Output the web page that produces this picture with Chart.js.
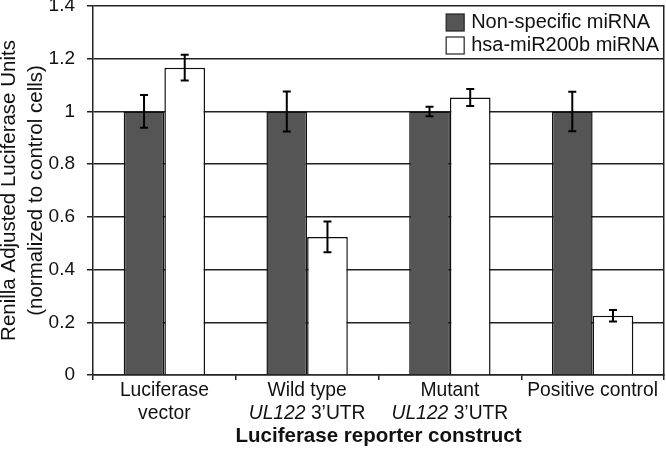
<!DOCTYPE html>
<html>
<head>
<meta charset="utf-8">
<script src="https://cdn.jsdelivr.net/npm/chart.js@4.4.0/dist/chart.umd.min.js"></script>
<style>
  html, body { margin: 0; padding: 0; background: #fff; }
</style>
</head>
<body>
<canvas id="luciferaseChart" width="666" height="450"></canvas>
<script>
// Categorias del eje x (un renglon por elemento)
const categories = [
  ['Luciferase', 'vector'],
  ['Wild type', 'UL122 3\u2019UTR'],
  ['Mutant', 'UL122 3\u2019UTR'],
  ['Positive control'],
];
const italicWords = ['UL122'];
const seriesNames = ['Non-specific miRNA', 'hsa-miR200b miRNA'];
const nonSpecific = [1.0, 1.0, 1.0, 1.0];
const nonSpecificErr = [0.062, 0.076, 0.018, 0.075];
const mir200b = [1.166, 0.524, 1.053, 0.225];
const mir200bErr = [0.049, 0.058, 0.032, 0.022];
const yTicks = [0, 0.2, 0.4, 0.6, 0.8, 1, 1.2, 1.4];

const FONT = '"Liberation Sans", Arial, sans-serif';
Chart.defaults.font.family = FONT;
Chart.defaults.color = '#111';

/* barras de error */
const errorBars = {
  id: 'errorBars',
  afterDatasetsDraw(chart) {
    const ctx = chart.ctx;
    const y = chart.scales.y;
    ctx.save();
    ctx.strokeStyle = '#000';
    ctx.lineWidth = 2;
    chart.data.datasets.forEach((ds, i) => {
      chart.getDatasetMeta(i).data.forEach((bar, j) => {
        const top = y.getPixelForValue(ds.data[j] + ds.errors[j]);
        const bot = y.getPixelForValue(ds.data[j] - ds.errors[j]);
        ctx.beginPath();
        ctx.moveTo(bar.x, top); ctx.lineTo(bar.x, bot);
        ctx.moveTo(bar.x - 4, top); ctx.lineTo(bar.x + 4, top);
        ctx.moveTo(bar.x - 4, bot); ctx.lineTo(bar.x + 4, bot);
        ctx.stroke();
      });
    });
    ctx.restore();
  }
};

/* etiquetas del eje x con el nombre del gen en cursiva */
const xLabels = {
  id: 'xLabels',
  afterDraw(chart) {
    const ctx = chart.ctx;
    const x = chart.scales.x;
    ctx.save();
    ctx.fillStyle = '#111';
    ctx.textBaseline = 'middle';
    ctx.textAlign = 'left';
    categories.forEach((lines, i) => {
      const cx = x.getPixelForTick(i);
      lines.forEach((line, k) => {
        const cy = x.top + 15.5 + k * 23;
        const parts = line.split(' ').map((w, n, all) => ({
          text: w + (n < all.length - 1 ? ' ' : ''),
          italic: italicWords.includes(w),
        }));
        let total = 0;
        parts.forEach(p => {
          ctx.font = (p.italic ? 'italic ' : '') + '19.3px ' + FONT;
          p.w = ctx.measureText(p.text).width;
          total += p.w;
        });
        let px = cx - total / 2;
        parts.forEach(p => {
          ctx.font = (p.italic ? 'italic ' : '') + '19.3px ' + FONT;
          ctx.fillText(p.text, px, cy);
          px += p.w;
        });
      });
    });
    ctx.restore();
  }
};

/* leyenda dentro del area del grafico, arriba a la derecha */
const boxLegend = {
  id: 'boxLegend',
  afterDraw(chart) {
    const ctx = chart.ctx;
    const area = chart.chartArea;
    ctx.save();
    ctx.font = '20px ' + FONT;
    const widths = chart.data.datasets.map(d => ctx.measureText(d.label).width);
    const textX = area.right - 5 - Math.max(...widths);
    chart.data.datasets.forEach((ds, i) => {
      const cy = area.top + 16.5 + i * 23;
      ctx.fillStyle = ds.backgroundColor;
      ctx.fillRect(textX - 25, cy - 8.5, 18, 17);
      ctx.strokeStyle = '#222';
      ctx.lineWidth = 1.2;
      ctx.strokeRect(textX - 25, cy - 8.5, 18, 17);
      ctx.fillStyle = '#111';
      ctx.textBaseline = 'middle';
      ctx.fillText(ds.label, textX, cy);
    });
    ctx.restore();
  }
};

const chartCtx = document.getElementById('luciferaseChart').getContext('2d');

new Chart(chartCtx, {
  type: 'bar',
  plugins: [errorBars, xLabels, boxLegend],
  data: {
    labels: categories,
    datasets: [
      {
        label: seriesNames[0],
        data: nonSpecific,
        errors: nonSpecificErr,
        backgroundColor: '#555555',
        borderColor: '#111',
        borderWidth: 1.5,
        categoryPercentage: 0.57,
        barPercentage: 1.0,
      },
      {
        label: seriesNames[1],
        data: mir200b,
        errors: mir200bErr,
        backgroundColor: '#ffffff',
        borderColor: '#111',
        borderWidth: 1.5,
        categoryPercentage: 0.57,
        barPercentage: 1.0,
      },
    ],
  },
  options: {
    responsive: false,
    animation: false,
    layout: { padding: { top: 6, right: 2, bottom: 0, left: 0 } },
    plugins: {
      legend: { display: false },
      tooltip: { enabled: false },
    },
    scales: {
      x: {
        grid: { offset: true, drawOnChartArea: false, drawTicks: true, tickLength: 5, color: '#222', lineWidth: 1.5 },
        border: { color: '#222', width: 1.5 },
        ticks: { display: false },
        title: {
          display: true,
          text: 'Luciferase reporter construct',
          font: { size: 20.5, weight: 'bold' },
          color: '#111',
          padding: { top: 0, bottom: 1 },
        },
        afterFit: (scale) => {
          scale.height = 75;
          scale.paddingLeft = 0;
          scale.paddingRight = 0;
        },
      },
      y: {
        min: 0,
        max: 1.4,
        afterBuildTicks: (scale) => {
          scale.ticks = yTicks.map(v => ({ value: v }));
        },
        ticks: {
          font: { size: 19 },
          color: '#111',
          padding: 12,
          callback: (v) => String(parseFloat(Number(v).toFixed(1))),
        },
        grid: { color: '#222', lineWidth: 1.5, tickLength: 6, drawTicks: true },
        border: { color: '#222', width: 1.5 },
        title: {
          display: true,
          text: ['Renilla Adjusted Luciferase Units', '(normalized to control cells)'],
          font: { size: 20.5, lineHeight: 1.3 },
          color: '#111',
          padding: { top: -4, bottom: 0 },
        },
        afterFit: (scale) => {
          scale.width = 93;
          scale.paddingTop = 0;
          scale.paddingBottom = 0;
        },
      },
      y2: {
        position: 'right',
        min: 0,
        max: 1.4,
        ticks: { display: false },
        grid: { display: false, drawTicks: false },
        border: { display: true, color: '#222', width: 1.5 },
        afterFit: (scale) => {
          scale.width = 0;
          scale.paddingTop = 0;
          scale.paddingBottom = 0;
        },
      },
    },
  },
});
</script>
</body>
</html>
